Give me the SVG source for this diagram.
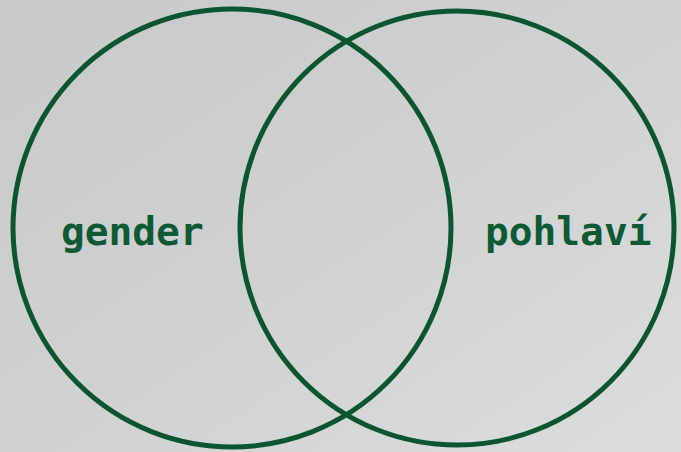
<svg xmlns="http://www.w3.org/2000/svg" width="681" height="452" viewBox="0 0 681 452">
<defs>
<linearGradient id="bg" x1="0" y1="0" x2="1" y2="1">
<stop offset="0" stop-color="#c8c9cb"/>
<stop offset="0.5" stop-color="#d0d1d3"/>
<stop offset="1" stop-color="#dcdddf"/>
</linearGradient>
</defs>
<style>
.c{fill:none;stroke:#0b5631;stroke-width:5}
.t{font-family:"DejaVu Sans Mono","Liberation Mono",monospace;font-weight:bold;font-size:39.5px;fill:#0d5a35}
</style>
<rect width="681" height="452" fill="url(#bg)"/>
<g id="gender">
<circle class="c" cx="232" cy="228" r="219"/>
<text class="t" x="61" y="245">gender</text>
</g>
<g id="pohlavi">
<circle class="c" cx="457" cy="228" r="217"/>
<text class="t" x="485" y="245">pohlaví</text>
</g>
<g id="connectors"/>
</svg>
